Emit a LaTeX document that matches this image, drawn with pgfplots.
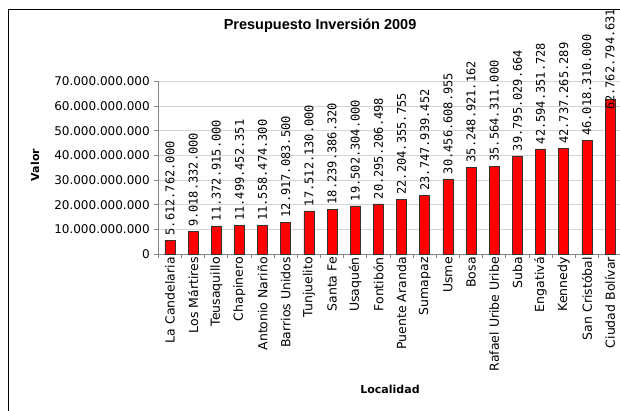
\documentclass[border=0pt]{standalone}
\usepackage{pgfplots}
\pgfplotsset{compat=1.18}
\usepackage{pgfplotstable}
\usepackage{fontspec}
\setmainfont{DejaVu Sans}
\newfontfamily\titlefont{Liberation Sans}
\newfontfamily\labfont{DejaVu Sans Mono}
\definecolor{axgray}{RGB}{134,134,134}
\definecolor{gridgray}{RGB}{212,212,212}
\definecolor{barred}{RGB}{255,0,0}

\pgfplotstableread{
x y lab
0 5612762000 5.612.762.000
1 9018332000 9.018.332.000
2 11372915000 11.372.915.000
3 11499452351 11.499.452.351
4 11558474300 11.558.474.300
5 12917083500 12.917.083.500
6 17512130000 17.512.130.000
7 18239386320 18.239.386.320
8 19502304000 19.502.304.000
9 20295206498 20.295.206.498
10 22204355755 22.204.355.755
11 23747939452 23.747.939.452
12 30456608955 30.456.608.955
13 35248921162 35.248.921.162
14 35564311000 35.564.311.000
15 39795029664 39.795.029.664
16 42594351728 42.594.351.728
17 42737265289 42.737.265.289
18 46018310000 46.018.310.000
}\dataA
\pgfplotstableread{
x y lab
19 62762794631 62.762.794.631
}\dataB

\begin{document}
\begin{tikzpicture}
\useasboundingbox (0,0) rectangle (620pt,410pt);
\draw[black, line width=0.9pt] (8pt,-5pt) -- (8pt,401pt) -- (630pt,401pt);
\begin{axis}[
  at={(158.4pt,156pt)}, anchor=south west,
  scale only axis, width=463.2pt, height=172.6pt,
  xmin=-0.5, xmax=19.5, ymin=0, ymax=7e10,
  clip=false,
  axis lines=left,
  axis line style={-, draw=axgray, line width=0.9pt},
  ybar, bar width=10pt,
  ytick={0,1e10,2e10,3e10,4e10,5e10,6e10,7e10},
  yticklabels={0,10.000.000.000,20.000.000.000,30.000.000.000,40.000.000.000,50.000.000.000,60.000.000.000,70.000.000.000},
  scaled y ticks=false,
  ymajorgrids, grid style={gridgray, line width=0.8pt},
  xtick={-0.5,0.5,...,19.5}, xticklabels={},
  extra x ticks={0,1,...,19},
  extra x tick labels={La Candelaria,Los Mártires,Teusaquillo,Chapinero,Antonio Nariño,Barrios Unidos,Tunjuelito,Santa Fe,Usaquén,Fontibón,Puente Aranda,Sumapaz,Usme,Bosa,Rafael Uribe Uribe,Suba,Engativá,Kennedy,San Cristóbal,Ciudad Bolívar},
  extra x tick style={major tick length=0pt},
  tick align=outside, major tick length=4pt,
  tick style={axgray, line width=0.8pt},
  xticklabel style={rotate=90, anchor=east, font=\fontsize{12.5}{14}\selectfont, inner sep=3pt},
  yticklabel style={font=\fontsize{12}{13}\selectfont, inner sep=4.5pt},
  xlabel={Localidad}, ylabel={Valor},
  xlabel style={at={(axis description cs:0.5,-0.782)}, anchor=center, font=\bfseries\fontsize{11}{13}\selectfont},
  ylabel style={at={(axis description cs:-0.2664,0.5157)}, anchor=center, font=\bfseries\fontsize{11}{13}\selectfont},
  title={Presupuesto Inversión 2009},
  title style={at={(axis description cs:0.349,1.286)}, anchor=center, font=\titlefont\bfseries\fontsize{14.5}{16}\selectfont},
  point meta=explicit symbolic,
]
\addplot[bar shift=0pt, fill=barred, draw=black!80, line width=0.6pt,
  nodes near coords,
  nodes near coords style={rotate=90, anchor=west, inner sep=4.5pt, text=black, font=\labfont\fontsize{12}{13}\selectfont}]
  table[x=x, y=y, meta=lab] {\dataA};
\addplot[bar shift=0pt, fill=barred, draw=black!80, line width=0.6pt,
  nodes near coords,
  nodes near coords style={yshift=-15pt, rotate=90, anchor=west, inner sep=4pt, text=black, font=\labfont\fontsize{12}{13}\selectfont}]
  table[x=x, y=y, meta=lab] {\dataB};
\end{axis}
\end{tikzpicture}
\end{document}
